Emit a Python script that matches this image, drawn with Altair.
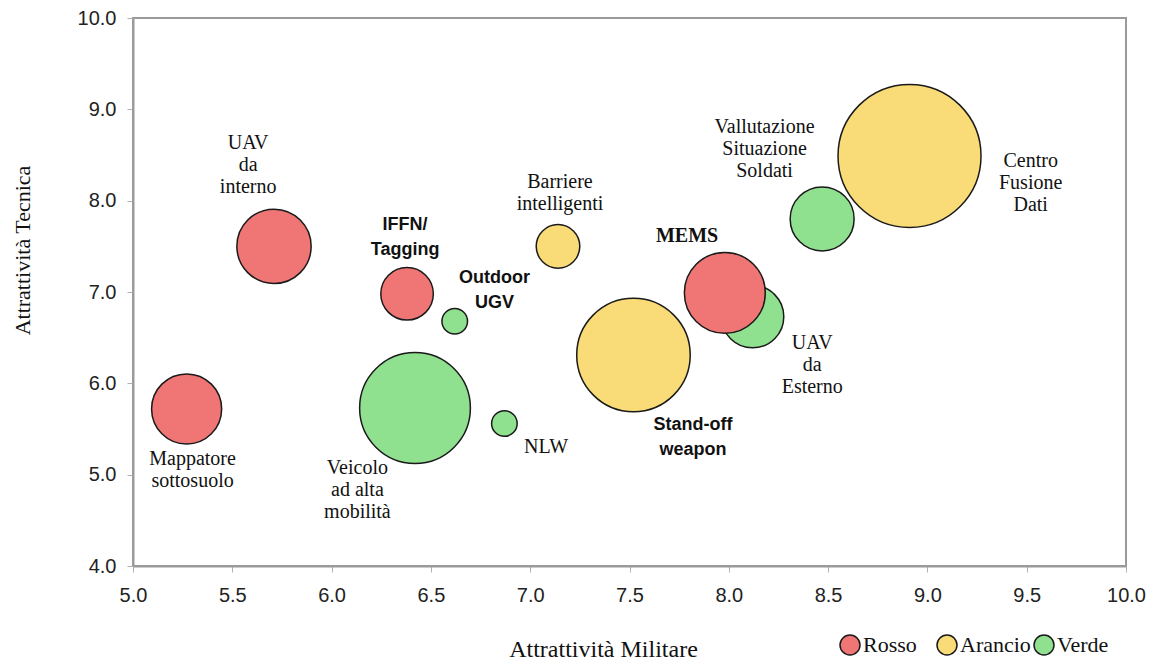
import altair as alt
import pandas as pd

# ---- bubble data ----
names = ["Veicolo ad alta mobilità", "Outdoor UGV", "NLW", "UAV da Esterno",
         "Vallutazione Situazione Soldati", "Barriere intelligenti", "Stand-off weapon",
         "Centro Fusione Dati", "Mappatore sottosuolo", "UAV da interno",
         "IFFN/Tagging", "MEMS"]
mil = [6.42, 6.62, 6.87, 8.12, 8.47, 7.14, 7.52, 8.91, 5.27, 5.71, 6.38, 7.98]
tec = [5.73, 6.68, 5.56, 6.73, 7.80, 7.50, 6.31, 8.49, 5.72, 7.50, 6.98, 6.99]
peso = [60, 3.2, 3.2, 19, 20, 9.3, 63, 100, 24, 27, 13.5, 32]
classe = ["Verde", "Verde", "Verde", "Verde", "Verde", "Arancio", "Arancio",
          "Arancio", "Rosso", "Rosso", "Rosso", "Rosso"]

categorie = ["Rosso", "Arancio", "Verde"]
colori = ["#F07676", "#F9DC78", "#8FE08F"]

# ---- label annotations (anchor = first line) ----
label_text = ["UAV\nda\ninterno", "IFFN/\nTagging", "Outdoor\nUGV", "Barriere\nintelligenti",
              "MEMS", "Stand-off\nweapon", "UAV\nda\nEsterno",
              "Vallutazione\nSituazione\nSoldati", "Centro\nFusione\nDati",
              "Mappatore\nsottosuolo", "Veicolo\nad alta\nmobilità", "NLW"]
label_x = [5.58, 6.37, 6.82, 7.15, 7.79, 7.82, 8.42, 8.18, 9.52, 5.30, 6.13, 7.08]
label_y = [8.63, 7.73, 7.15, 8.20, 7.61, 5.54, 6.44, 8.81, 8.43, 5.17, 5.07, 5.30]
sans_labels = ["IFFN/\nTagging", "Outdoor\nUGV", "Stand-off\nweapon"]
bold_serif_labels = ["MEMS"]

ticks_x = [5.0, 5.5, 6.0, 6.5, 7.0, 7.5, 8.0, 8.5, 9.0, 9.5, 10.0]
ticks_y = [4.0, 5.0, 6.0, 7.0, 8.0, 9.0, 10.0]

bubbles = pd.DataFrame({"nome": names, "mil": mil, "tec": tec, "peso": peso,
                        "classe": classe})
labels = pd.DataFrame({"testo": label_text, "lx": label_x, "ly": label_y})

xscale = alt.Scale(domain=[5, 10], nice=False, zero=False)
yscale = alt.Scale(domain=[4, 10], nice=False, zero=False)

xaxis = alt.Axis(values=ticks_x, format=".1f", grid=False,
                 domainColor="#9a9a9a", domainWidth=2, tickColor="#b0b0b0",
                 tickSize=6, tickWidth=1, labelFont="Liberation Sans",
                 labelFontSize=20, labelColor="#222222", labelPadding=13,
                 labelFlush=False, labelOverlap=False,
                 title="Attrattività Militare", titleFont="Liberation Serif",
                 titleFontSize=24, titleFontWeight="normal", titleColor="#111111",
                 titleX=470, titleY=83, titleBaseline="middle", titleAlign="center")
yaxis = alt.Axis(values=ticks_y, format=".1f", grid=False,
                 domainColor="#9a9a9a", domainWidth=2, tickColor="#b0b0b0",
                 tickSize=6, tickWidth=1, labelFont="Liberation Sans",
                 labelFontSize=20, labelColor="#222222", labelPadding=11,
                 labelFlush=False, labelOverlap=False,
                 title="Attrattività Tecnica", titleFont="Liberation Serif",
                 titleFontSize=22, titleFontWeight="normal", titleColor="#111111",
                 titleX=-111, titleY=232, titleBaseline="middle", titleAlign="center",
                 titleAngle=270)

r_max = 71.5
points = alt.Chart(bubbles).mark_circle(
    stroke="#1a1a1a", strokeWidth=1.5, opacity=1
).encode(
    x=alt.X("mil:Q", scale=xscale, axis=xaxis),
    y=alt.Y("tec:Q", scale=yscale, axis=yaxis),
    size=alt.Size("peso:Q", scale=alt.Scale(type="linear", domain=[0, 100],
                                            range=[0, (2 * r_max) ** 2]),
                  legend=None),
    color=alt.Color("classe:N", scale=alt.Scale(domain=categorie, range=colori),
                    legend=alt.Legend(title=None, orient="none", legendX=706,
                                      legendY=616, direction="horizontal",
                                      symbolType="circle", symbolSize=400,
                                      symbolStrokeColor="#1a1a1a",
                                      symbolStrokeWidth=1.5, symbolOpacity=1,
                                      labelFont="Liberation Serif",
                                      labelFontSize=22, labelColor="#111111",
                                      labelOffset=2, columnPadding=0,
                                      gridAlign="all", padding=0)),
)

serif_txt = alt.Chart(labels).mark_text(
    font="Liberation Serif", fontSize=20, lineBreak="\n", lineHeight=22,
    align="center", baseline="middle", color="#111111"
).encode(
    x=alt.X("lx:Q", scale=xscale), y=alt.Y("ly:Q", scale=yscale), text="testo:N"
).transform_filter(
    ~alt.FieldOneOfPredicate(field="testo", oneOf=sans_labels + bold_serif_labels)
)

bold_serif_txt = alt.Chart(labels).mark_text(
    font="Liberation Serif", fontSize=20, fontWeight="bold", lineBreak="\n",
    lineHeight=22, align="center", baseline="middle", color="#111111"
).encode(
    x=alt.X("lx:Q", scale=xscale), y=alt.Y("ly:Q", scale=yscale), text="testo:N"
).transform_filter(
    alt.FieldOneOfPredicate(field="testo", oneOf=bold_serif_labels)
)

sans_txt = alt.Chart(labels).mark_text(
    font="Liberation Sans", fontSize=18, fontWeight="bold", lineBreak="\n",
    lineHeight=25, align="center", baseline="middle", color="#111111"
).encode(
    x=alt.X("lx:Q", scale=xscale), y=alt.Y("ly:Q", scale=yscale), text="testo:N"
).transform_filter(
    alt.FieldOneOfPredicate(field="testo", oneOf=sans_labels)
)

chart = alt.layer(points, serif_txt, bold_serif_txt, sans_txt).properties(
    width=993, height=548,
    autosize=alt.AutoSizeParams(type="none"),
    padding={"left": 125, "top": 10, "right": 26, "bottom": 94},
    background="white",
).configure_view(stroke="#9a9a9a", strokeWidth=2)

chart.save("out.html", embed_options={"renderer": "svg", "actions": False})
